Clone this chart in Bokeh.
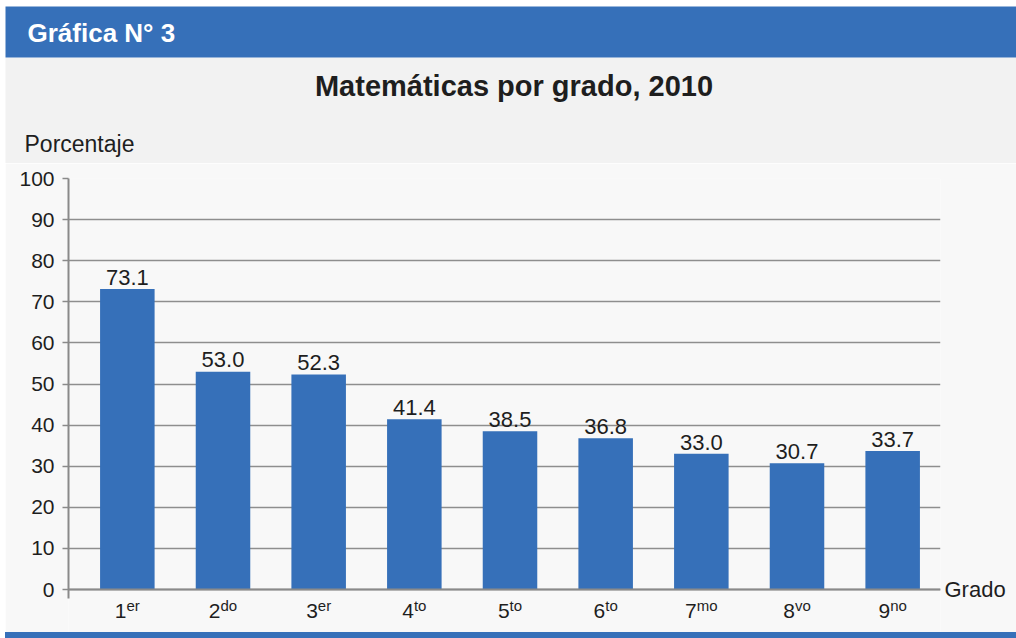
from bokeh.plotting import figure
from bokeh.models import (Range1d, Label, ColumnDataSource, FixedTicker, Row,
                          Spacer, LinearAxis, Div)
from bokeh.embed import file_html
from bokeh.resources import INLINE

# ---- data ----
grados = ["1", "2", "3", "4", "5", "6", "7", "8", "9"]
sufijos = ["er", "do", "er", "to", "to", "to", "mo", "vo", "no"]
porcentajes = [73.1, 53.0, 52.3, 41.4, 38.5, 36.8, 33.0, 30.7, 33.7]
y_ticks = [0, 10, 20, 30, 40, 50, 60, 70, 80, 90, 100]
header_text = "Gráfica N° 3"
title_text = "Matemáticas por grado, 2010"
y_label = "Porcentaje"
x_label = "Grado"

BLUE = "#3670b9"
FONT = "Liberation Sans"
TXT = "#1e1e1e"
PAGE_W, PAGE_H = 1016, 638
LEFT = 5                      # card starts at x=5
TOP_H = 163                   # page rows 0..163
MAIN_BOTTOM = 632             # page row where main figure ends
MAIN_H = MAIN_BOTTOM - TOP_H
BAND_H = PAGE_H - MAIN_BOTTOM
FRAME_L, FRAME_R, FRAME_T = 68, 940, 178   # page px of plot frame
ZERO = 589                                 # page row of value 0
MID = 0.35  # "middle" baseline -> alphabetic baseline shift (em)

# ---- top: header band, title, y label ----
top = figure(width=PAGE_W, height=TOP_H, x_range=Range1d(0, PAGE_W), y_range=Range1d(0, TOP_H),
             output_backend="svg", toolbar_location=None, min_border=0,
             background_fill_color="white", border_fill_color="white", outline_line_color=None)
top.axis.visible = False
top.grid.visible = False
ty = lambda py: TOP_H - py
top.quad(left=LEFT, right=PAGE_W, bottom=0, top=ty(57), fill_color="#f2f2f2", line_color=None)
top.quad(left=LEFT, right=PAGE_W, bottom=ty(57), top=ty(6), fill_color=BLUE, line_color=None)
top.add_layout(Label(x=27, y=ty(42 - MID * 26), text=header_text, text_font=FONT,
                     text_font_size="26px", text_font_style="bold", text_color="white",
                     text_baseline="middle", text_align="left"))
top.add_layout(Label(x=513.5, y=ty(96 - MID * 29), text=title_text, text_font=FONT,
                     text_font_size="29px", text_font_style="bold", text_color=TXT,
                     text_baseline="middle", text_align="center"))
top.add_layout(Label(x=24, y=ty(152 - MID * 23), text=y_label, text_font=FONT,
                     text_font_size="23px", text_color=TXT,
                     text_baseline="middle", text_align="left"))

# ---- main chart ----
xs = list(range(len(grados)))
src = ColumnDataSource(dict(x=xs, top=porcentajes))
x0, x1 = -0.615, 8.5
pxu_y = (ZERO - FRAME_T) / 100.0
ymin = -(MAIN_BOTTOM - ZERO) / pxu_y
dy = lambda py: (ZERO - py) / pxu_y

p = figure(width=PAGE_W - LEFT, height=MAIN_H, x_range=Range1d(x0, x1),
           y_range=Range1d(ymin, 100),
           output_backend="svg", toolbar_location=None,
           min_border_left=FRAME_L - LEFT, min_border_right=PAGE_W - FRAME_R,
           min_border_top=FRAME_T - TOP_H, min_border_bottom=0,
           background_fill_color="#f8f8f8", border_fill_color="#f8f8f8",
           outline_line_color=None)
p.vbar(x="x", top="top", width=0.57, bottom=0, source=src, fill_color=BLUE, line_color=None)

p.xgrid.visible = False
p.ygrid.ticker = FixedTicker(ticks=y_ticks)
p.ygrid.grid_line_color = "#8e8e8e"
p.ygrid.grid_line_width = 1.3
p.ygrid.level = "underlay"

p.yaxis.ticker = FixedTicker(ticks=y_ticks)
p.yaxis.bounds = (dy(598), 100)
p.yaxis.axis_line_color = "#8a8a8a"
p.yaxis.axis_line_width = 2
p.yaxis.major_tick_line_color = "#8a8a8a"
p.yaxis.major_tick_line_width = 1.5
p.yaxis.major_tick_out = 6
p.yaxis.major_tick_in = 0
p.yaxis.minor_tick_line_color = None
p.yaxis.major_label_text_font = FONT
p.yaxis.major_label_text_font_size = "21px"
p.yaxis.major_label_text_color = TXT
p.yaxis.major_label_standoff = 8

p.xaxis.ticker = FixedTicker(ticks=[])
p.xaxis.fixed_location = 0
p.xaxis.axis_line_color = "#8a8a8a"
p.xaxis.axis_line_width = 2
p.xaxis.major_tick_line_color = None
p.xaxis.minor_tick_line_color = None
p.xaxis.major_tick_out = 0
p.xaxis.major_tick_in = 0

# "Grado" label at the end of the x axis (right axis with a single tick at 0)
ax_r = LinearAxis(ticker=FixedTicker(ticks=[0]), major_label_overrides={0: x_label},
                  axis_line_color=None, major_tick_line_color=None,
                  minor_tick_line_color=None, major_label_standoff=4,
                  major_tick_out=0, major_tick_in=0,
                  major_label_text_font=FONT, major_label_text_font_size="22px",
                  major_label_text_color=TXT)
p.add_layout(ax_r, "right")

# value labels
for xi, v in zip(xs, porcentajes):
    p.add_layout(Label(x=xi, y=v + (4 + MID * 22) / pxu_y, text=f"{v:.1f}",
                       text_align="center", text_baseline="middle",
                       text_font=FONT, text_font_size="22px", text_color=TXT))

# category labels with superscripts (below the zero line, inside the frame)
adv = {"e": .556, "r": .333, "d": .556, "o": .556, "t": .278, "m": .833, "v": .5, "n": .556}
DIG, SUP = 21, 15
for xi, g, s in zip(xs, grados, sufijos):
    wd = 0.556 * DIG
    ws = sum(adv[c] for c in s) * SUP
    left = -(wd + ws) / 2
    p.add_layout(Label(x=xi, y=dy(618 - MID * DIG), x_offset=left, text=g,
                       text_align="left", text_baseline="middle",
                       text_font=FONT, text_font_size=f"{DIG}px", text_color=TXT))
    p.add_layout(Label(x=xi, y=dy(610 - MID * SUP), x_offset=left + wd, text=s,
                       text_align="left", text_baseline="middle",
                       text_font=FONT, text_font_size=f"{SUP}px", text_color=TXT))

main = Row(Spacer(width=LEFT, height=MAIN_H), p, spacing=0)

# ---- bottom band ----
band = Div(text="", width=PAGE_W - LEFT, height=BAND_H, margin=0,
           styles={"background-color": BLUE})
bottom = Row(Spacer(width=LEFT, height=BAND_H), band, spacing=0)

open("out.html", "w").write(file_html([top, main, bottom], INLINE))
